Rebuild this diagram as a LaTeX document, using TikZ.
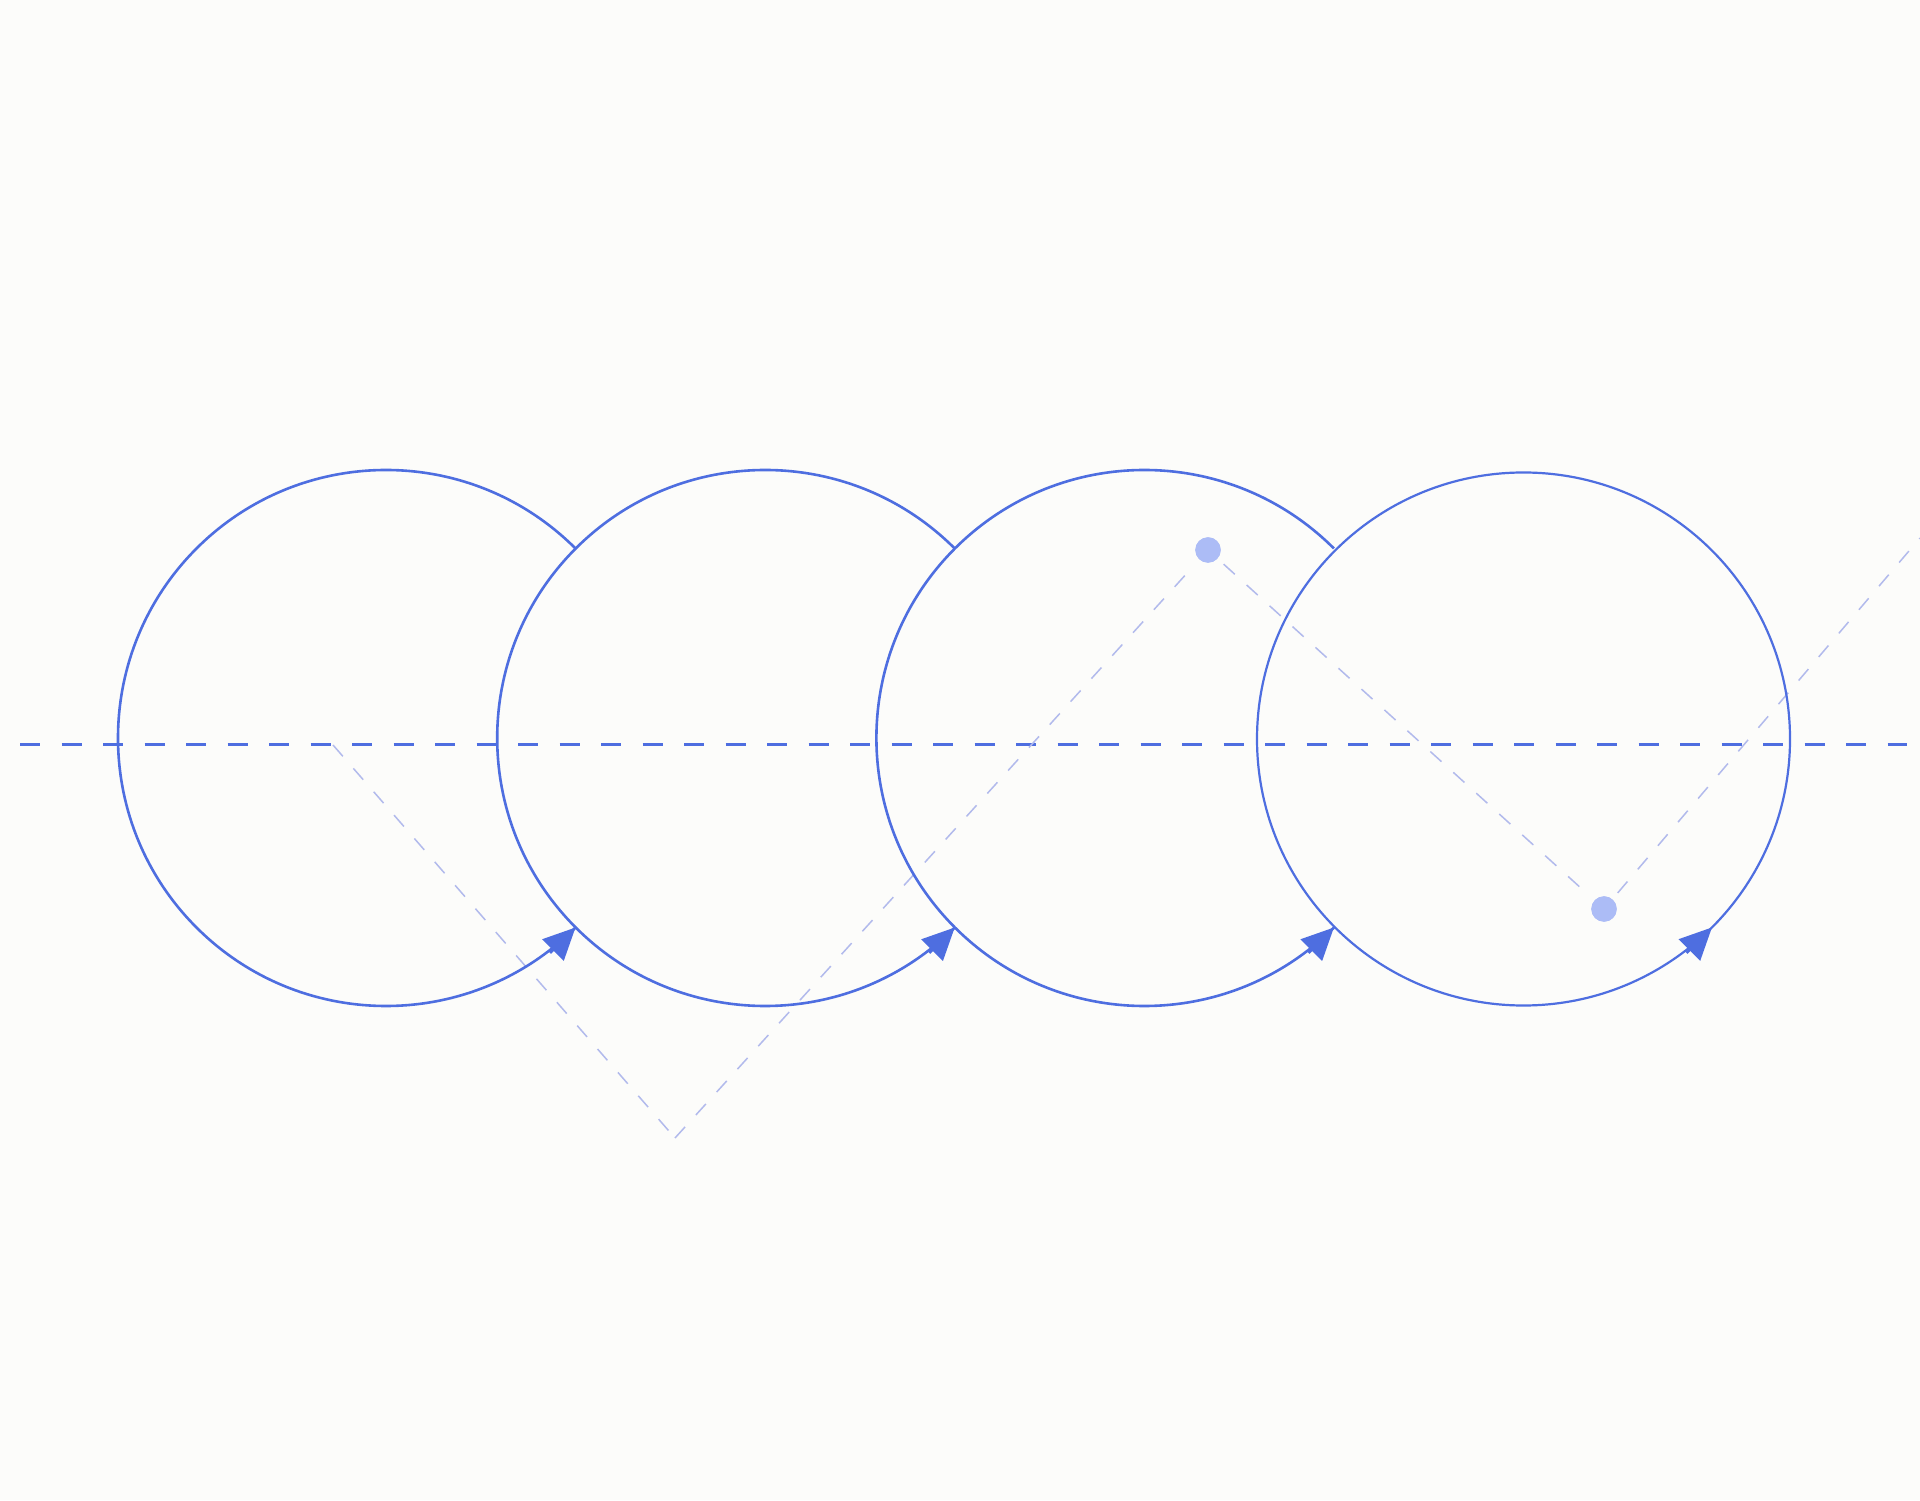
\documentclass[tikz,border=0pt]{standalone}
\usetikzlibrary{arrows.meta, calc, positioning}
\definecolor{wheelblue}{RGB}{78,110,224}
\definecolor{traceblue}{RGB}{178,186,236}
\definecolor{dotblue}{RGB}{172,188,246}
\definecolor{paper}{RGB}{252,252,250}

\begin{document}
\begin{tikzpicture}[x=0.5pt,y=0.5pt,>={Triangle[length=16pt,width=15pt]},
	wheel/.style={draw=wheelblue, line width=1.3pt},
	axis/.style={draw=wheelblue, line width=1.5pt, dash pattern=on 10pt off 10.75pt},
	trace/.style={draw=traceblue, line width=0.75pt, dash pattern=on 7.5pt off 8pt},
	marker/.style={circle, fill=dotblue, inner sep=0pt, minimum size=12.7pt}]
	
	\useasboundingbox (0,0) rectangle (1920,1500);
	\fill [paper] (0,0) rectangle (1920,1500);
	
	% rolling line
	\coordinate (l) at (20,755);
	\coordinate (r) at (1907,755);
	\draw [axis] (l) -- (r);
	
	% trace of the point
	\coordinate (t0) at (333,755);
	\coordinate (t1) at (675,362);
	\coordinate (t2) at (1920,962);
	\node (d1) [marker] at (1208,950) {};
	\node (d2) [marker] at (1604,591) {};
	
	\path [trace]
	(t0) edge (t1)
	(t1) edge [shorten >=4pt] (d1)
	(d1) edge [shorten <=4pt, shorten >=4pt] (d2)
	(d2) edge [shorten <=4pt] (t2);
	
	% wheels
	\foreach \k in {0,1,2} {
		\coordinate (c\k) at ({386+379.2*\k},762);
		\coordinate (h\k) at ($(c\k)+(315:268)$);
		\draw [wheel] (c\k) ++(45:268) arc [start angle=45, end angle=315, radius=268];
		\draw [wheel, ->] (h\k) ++(225:36) -- (h\k);
	}
	\coordinate (c3) at (1523.5,761);
	\coordinate (h3) at ($(c3)+(315:266.5)$);
	\draw [wheel, line width=1.1pt] (c3) circle [radius=266.5];
	\draw [wheel, ->] (h3) ++(225:36) -- (h3);
	
	\node (d1) [marker] at (1208,950) {};
	\node (d2) [marker] at (1604,591) {};
	
\end{tikzpicture}
\end{document}
